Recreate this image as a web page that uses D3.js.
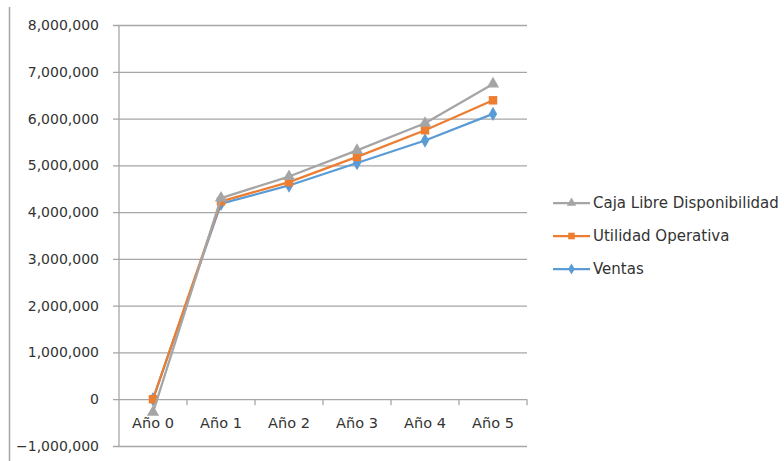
<!DOCTYPE html>
<html>
<head>
<meta charset="utf-8">
<script src="https://cdn.jsdelivr.net/npm/d3@7"></script>
<style>
  html, body { margin: 0; padding: 0; background: #fff; }
  svg { display: block; }
  text { font-family: "DejaVu Sans", sans-serif; fill: #333333; }
</style>
</head>
<body>
<svg id="chart" width="784" height="461"></svg>
<script>
// Categories and series
const categories = ["Año 0", "Año 1", "Año 2", "Año 3", "Año 4", "Año 5"];
const cajaLibre = [-280000, 4300000, 4760000, 5320000, 5900000, 6740000];
const utilidadOperativa = [0, 4230000, 4640000, 5180000, 5750000, 6390000];
const ventas = [0, 4180000, 4570000, 5050000, 5530000, 6100000];
const yTicks = [-1000000, 0, 1000000, 2000000, 3000000, 4000000, 5000000, 6000000, 7000000, 8000000];

const seriesList = [
  { name: "Ventas", values: ventas, color: "#5B9BD5", marker: d3.symbolDiamond, size: 60 },
  { name: "Utilidad Operativa", values: utilidadOperativa, color: "#ED7D31", marker: d3.symbolSquare, size: 72 },
  { name: "Caja Libre Disponibilidad", values: cajaLibre, color: "#A5A5A5", marker: d3.symbolTriangle, size: 65 }
];
const legendOrder = ["Caja Libre Disponibilidad", "Utilidad Operativa", "Ventas"];

const svg = d3.select("#chart");
const plot = { left: 119, right: 527, top: 25, bottom: 446 };
const gridColor = "#a6a6a6";

// Outer frame edge on the left
svg.append("line")
  .attr("x1", 9.5).attr("x2", 9.5).attr("y1", 7).attr("y2", 461)
  .attr("stroke", "#a6a6a6").attr("stroke-width", 1.5);

const x = d3.scaleBand().domain(categories).range([plot.left, plot.right]);
const y = d3.scaleLinear().domain([-1000000, 8000000]).range([plot.bottom, plot.top]);

// Horizontal gridlines with value axis
const yAxis = d3.axisLeft(y)
  .tickValues(yTicks)
  .tickSize(-(plot.right - plot.left))
  .tickPadding(20)
  .tickFormat(d => d3.format(",")(d));
const gy = svg.append("g").attr("transform", `translate(${plot.left},0)`).call(yAxis);
gy.select(".domain").remove();
gy.selectAll(".tick line").attr("stroke", gridColor).attr("stroke-width", 1.3).attr("x1", -6);
gy.selectAll(".tick text").attr("font-size", 14).attr("fill", "#333333")
  .attr("font-family", "DejaVu Sans, sans-serif");

// Vertical value axis line
svg.append("line")
  .attr("x1", plot.left).attr("x2", plot.left)
  .attr("y1", plot.top).attr("y2", plot.bottom)
  .attr("stroke", gridColor).attr("stroke-width", 1.3);

// Category axis sitting on zero
const y0 = y(0);
const catBoundaries = categories.map((c, i) => plot.left + i * x.step()).concat([plot.right]);
svg.append("g").selectAll("line").data(catBoundaries.slice(1)).join("line")
  .attr("x1", d => d).attr("x2", d => d)
  .attr("y1", y0).attr("y2", y0 + 6)
  .attr("stroke", gridColor).attr("stroke-width", 1.3);
svg.append("g").selectAll("text").data(categories).join("text")
  .attr("x", d => x(d) + x.bandwidth() / 2)
  .attr("y", y0 + 29)
  .attr("text-anchor", "middle")
  .attr("font-size", 14.5)
  .text(d => d);

// Series lines and markers
const line = d3.line()
  .x((d, i) => x(categories[i]) + x.bandwidth() / 2)
  .y(d => y(d));

seriesList.forEach(s => {
  const g = svg.append("g");
  g.append("path")
    .datum(s.values)
    .attr("d", line)
    .attr("fill", "none")
    .attr("stroke", s.color)
    .attr("stroke-width", 2.25)
    .attr("stroke-linejoin", "round");
  g.selectAll("path.marker").data(s.values).join("path")
    .attr("class", "marker")
    .attr("d", d3.symbol().type(s.marker).size(s.size))
    .attr("transform", (d, i) => `translate(${x(categories[i]) + x.bandwidth() / 2},${y(d)})`)
    .attr("fill", s.color);
});

// Legend
const legend = svg.append("g");
legendOrder.forEach((name, i) => {
  const s = seriesList.find(t => t.name === name);
  const ly = 203 + i * 33;
  legend.append("line")
    .attr("x1", 553).attr("x2", 590).attr("y1", ly).attr("y2", ly)
    .attr("stroke", s.color).attr("stroke-width", 2.25);
  legend.append("path")
    .attr("d", d3.symbol().type(s.marker).size(s.size * 0.6))
    .attr("transform", `translate(571.5,${ly})`)
    .attr("fill", s.color);
  legend.append("text")
    .attr("x", 593).attr("y", ly)
    .attr("dy", "0.35em")
    .attr("font-size", 15)
    .text(name);
});
</script>
</body>
</html>
